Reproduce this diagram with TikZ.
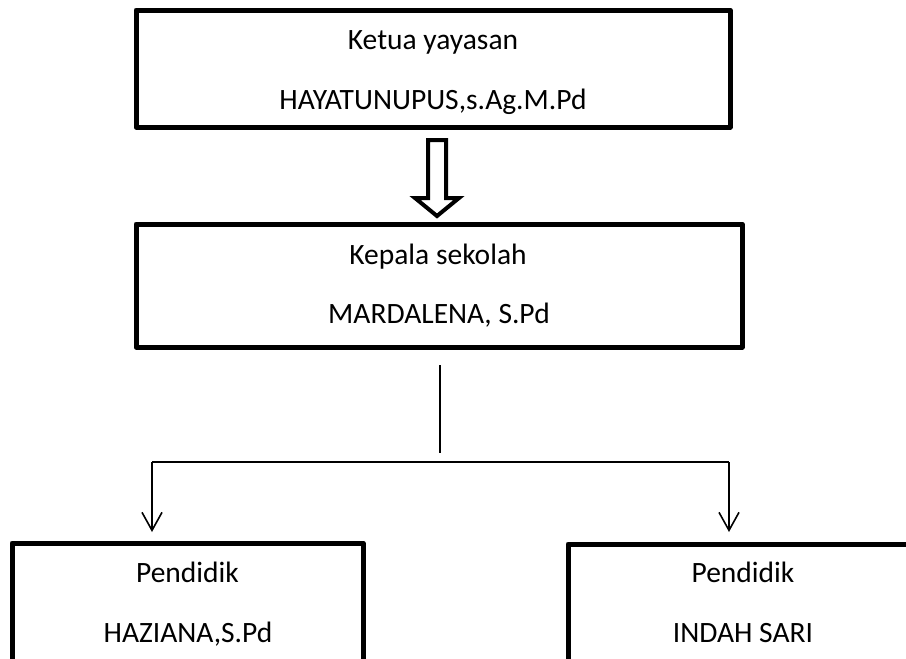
\documentclass[tikz,border=0pt]{standalone}
\usepackage{fontspec}
\setmainfont{Carlito}
\usetikzlibrary{arrows.meta}
\begin{document}
\begin{tikzpicture}[x=1pt,y=-1pt,
  box/.style={draw, line width=5pt, rectangle, inner sep=0pt, line join=round},
  txt/.style={anchor=base, inner sep=0pt, font=\fontsize{29.5}{30}\selectfont},
  conn/.style={line width=1.6pt},
  tipbarb/.style={-{Straight Barb[length=18pt,width=20pt]}},
  blockarrow/.style={draw, line width=4pt, line join=miter}]
\useasboundingbox (0,0) rectangle (906,659);
\clip (0,0) rectangle (906,659);
\fill[white] (0,0) rectangle (906,659);
% boxes
\node[box, minimum width=594pt, minimum height=117pt] (ketua) at (433,68.5) {};
\node[box, minimum width=606pt, minimum height=123pt] (kepsek) at (439,285.5) {};
\node[box, minimum width=351pt, minimum height=160pt] (guru1) at (187.5,623) {};
\node[box, minimum width=350pt, minimum height=160pt] (guru2) at (743,624) {};
% texts
\node[txt] (t1) at (433,49) {Ketua yayasan};
\node[txt] (t2) at (433,109) {HAYATUNUPUS,s.Ag.M.Pd};
\node[txt] (t3) at (438,264) {Kepala sekolah};
\node[txt] (t4) at (439,323) {MARDALENA, S.Pd};
\node[txt] (t5) at (187.5,582) {Pendidik};
\node[txt] (t6) at (188,642) {HAZIANA,S.Pd};
\node[txt] (t7) at (743,582) {Pendidik};
\node[txt] (t8) at (743,642) {INDAH SARI};
% block arrow between top boxes
\draw[blockarrow] (428,140) -- (446,140) -- (446,198) -- (459,198) -- (437,216)
  -- (415,198) -- (428,198) -- cycle;
% connectors
\coordinate (v1) at (440,365);
\coordinate (v2) at (440,453);
\coordinate (hl) at (152,462);
\coordinate (hr) at (729,462);
\coordinate (a1) at (152,532);
\coordinate (a2) at (729,532);
\draw[conn] (v1) -- (v2);
\draw[conn] (hl) -- (hr);
\draw[conn, tipbarb] (hl) -- (a1);
\draw[conn, tipbarb] (hr) -- (a2);
\end{tikzpicture}
\end{document}
